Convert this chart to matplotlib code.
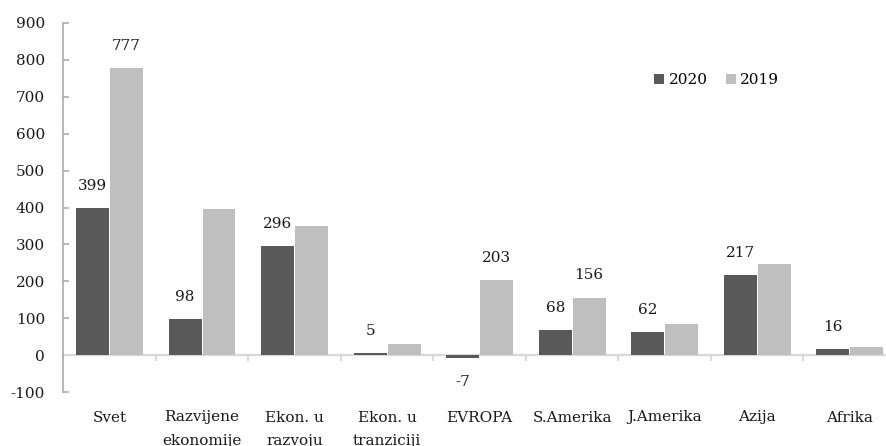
import matplotlib
matplotlib.use("Agg")
import matplotlib.pyplot as plt
import matplotlib.transforms as mtransforms
from matplotlib.patches import Patch
import numpy as np

categories = ["Svet", "Razvijene\nekonomije", "Ekon. u\nrazvoju", "Ekon. u\ntranziciji",
              "EVROPA", "S.Amerika", "J.Amerika", "Azija", "Afrika"]
values_2020 = [399, 98, 296, 5, -7, 68, 62, 217, 16]
values_2019 = [777, 396, 351, 29, 203, 156, 83, 247, 22]
labels_2020 = ["399", "98", "296", "5", "-7", "68", "62", "217", "16"]
labels_2019 = ["777", "", "", "", "203", "156", "", "", ""]
yticks = [-100, 0, 100, 200, 300, 400, 500, 600, 700, 800, 900]

plt.rcParams['font.family'] = ['DejaVu Serif']
FS = 11
DARK = "#595959"
LIGHT = "#bfbfbf"
AXC = "#a6a6a6"
ZEROC = "#d9d9d9"

W, H = 886, 446
fig = plt.figure(figsize=(W / 100, H / 100), dpi=100)
left, right, top, bottom = 63.3, 896.0, 23.0, 392.0
ax = fig.add_axes([left / W, 1 - bottom / H, (right - left) / W, (bottom - top) / H])

x = np.arange(len(categories))
bw = 0.355
off = 0.1835
ax.bar(x - off, values_2020, bw, color=DARK, edgecolor="none", zorder=3)
ax.bar(x + off, values_2019, bw, color=LIGHT, edgecolor="none", zorder=3)

ax.set_xlim(-0.5, len(categories) - 0.5)
ax.set_ylim(-100, 900)

# value labels
for xi, v, lab in zip(x, values_2020, labels_2020):
    if lab:
        dy = 16 if v >= 0 else -17.5
        ax.annotate(lab, (xi - off, v), xytext=(0, dy), textcoords="offset points",
                    ha="center", va="center", fontsize=FS, color="#1a1a1a")
for xi, v, lab in zip(x, values_2019, labels_2019):
    if lab:
        ax.annotate(lab, (xi + off, v), xytext=(0, 16), textcoords="offset points",
                    ha="center", va="center", fontsize=FS, color="#1a1a1a")

# spines
for s in ["top", "right"]:
    ax.spines[s].set_visible(False)
ax.spines["left"].set_color(AXC)
ax.spines["left"].set_linewidth(1.1)
ax.spines["bottom"].set_position(("data", 0))
ax.spines["bottom"].set_color(ZEROC)
ax.spines["bottom"].set_linewidth(1.6)
ax.spines["bottom"].set_zorder(2)

ax.set_yticks(yticks)
ax.set_yticklabels([str(t) for t in yticks], fontsize=FS, color="#1a1a1a")
ax.tick_params(axis="y", direction="in", length=4.5, width=1.1, color=AXC, pad=13)

ax.set_xticks(np.arange(-0.5, len(categories), 1.0))
ax.set_xticklabels([])
ax.tick_params(axis="x", direction="out", length=4.5, width=1.4, color=ZEROC)

# category labels below plot
trans = mtransforms.blended_transform_factory(ax.transData, fig.transFigure)
for xi, cat in zip(x, categories):
    for k, line in enumerate(cat.split("\n")):
        yb = 421.5 + 23 * k
        ax.text(xi, 1 - yb / H, line, transform=trans, ha="center", va="baseline",
                fontsize=FS, color="#1a1a1a", clip_on=False)

handles = [Patch(facecolor=DARK, edgecolor="none"), Patch(facecolor=LIGHT, edgecolor="none")]
fig.legend(handles, ["2020", "2019"], loc="center left", bbox_to_anchor=(654 / W, 1 - 80 / H),
           ncol=2, frameon=False, fontsize=FS, handlelength=0.65, handleheight=0.65,
           handletextpad=0.3, columnspacing=1.2, borderpad=0, borderaxespad=0)

fig.savefig("out.png", dpi=100)
